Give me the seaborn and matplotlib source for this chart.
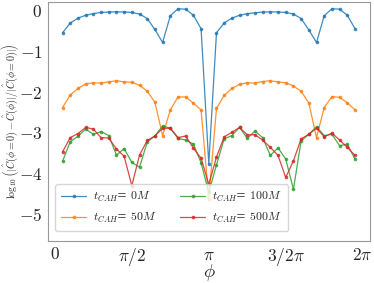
import numpy as np
import pandas as pd
import matplotlib
matplotlib.use('Agg')
import matplotlib.pyplot as plt
import seaborn as sns

# sampling steps: phi = step * pi / 20
steps = list(range(1, 40))

c_0M = [-0.54, -0.30, -0.18, -0.11, -0.07, -0.04, -0.03, -0.025, -0.03, -0.04,
        -0.08, -0.19, -0.46, -0.78, -0.12, 0.05, 0.04, -0.11, -0.44,
        -3.77,
        -0.54, -0.30, -0.18, -0.11, -0.07, -0.05, -0.03, -0.025, -0.03, -0.04,
        -0.08, -0.19, -0.47, -0.78, -0.12, 0.05, 0.04, -0.11, -0.44]

c_50M = [-2.38, -2.07, -1.91, -1.80, -1.77, -1.78, -1.75, -1.72, -1.75, -1.76,
         -1.83, -1.98, -2.25, -3.07, -2.44, -2.12, -2.12, -2.27, -2.44,
         -4.62,
         -2.40, -2.08, -1.91, -1.81, -1.77, -1.78, -1.74, -1.72, -1.75, -1.77,
         -1.85, -1.98, -2.27, -3.12, -2.38, -2.11, -2.13, -2.26, -2.44]

c_100M = [-3.70, -3.22, -3.09, -2.91, -3.04, -2.97, -3.07, -3.55, -3.39, -3.73,
          -3.85, -3.23, -3.08, -2.83, -2.89, -3.14, -3.18, -3.28, -3.74,
          -4.47,
          -3.79, -3.15, -3.07, -2.87, -3.14, -2.96, -3.12, -3.56, -3.37, -3.65,
          -4.39, -3.20, -3.04, -2.85, -3.07, -3.04, -3.32, -3.28, -3.65]

c_500M = [-3.47, -3.12, -3.02, -2.87, -2.91, -3.12, -3.13, -3.40, -3.58, -4.30,
          -3.55, -3.19, -3.08, -2.89, -2.89, -3.12, -3.08, -3.38, -3.63,
          -4.27,
          -3.60, -3.10, -2.99, -2.87, -3.05, -3.05, -3.18, -3.36, -3.56, -4.10,
          -3.69, -3.15, -3.04, -2.89, -3.10, -3.01, -3.18, -3.36, -3.56]

labels = [r'$t_{CAH}$= $0M$', r'$t_{CAH}$= $50M$',
          r'$t_{CAH}$= $100M$', r'$t_{CAH}$= $500M$']

xtick_vals = [0, np.pi / 2, np.pi, 1.5 * np.pi, 2 * np.pi]
xtick_labels = [r'$0$', r'$\pi/2$', r'$\pi$', r'$3/2\pi$', r'$2\pi$']
ytick_vals = [0, -1, -2, -3, -4, -5]

phi = np.array(steps) * np.pi / 20
frames = []
for lab, vals in zip(labels, [c_0M, c_50M, c_100M, c_500M]):
    frames.append(pd.DataFrame({'phi': phi, 'val': vals, 'run': lab}))
df = pd.concat(frames, ignore_index=True)

sns.set_style('white')
plt.rcParams['mathtext.fontset'] = 'cm'
plt.rcParams['font.family'] = ['DejaVu Serif']

fig = plt.figure(figsize=(3.74, 2.83), dpi=100)
ax = fig.add_axes([0.128, 0.149, 0.861, 0.843])

sns.lineplot(data=df, x='phi', y='val', hue='run', palette='tab10',
             marker='o', markersize=2.6, markeredgewidth=0, linewidth=0.9,
             alpha=0.85, ax=ax)

ax.set_xlim(-0.143, 6.43)
ax.set_ylim(-5.66, 0.21)
ax.set_xticks(xtick_vals)
ax.set_xticklabels(xtick_labels, fontsize=12.5)
ax.set_yticks(ytick_vals)
ax.set_yticklabels([r'$%d$' % v for v in ytick_vals], fontsize=12.5)
ax.tick_params(axis='both', length=2, width=0.6, color='#999999', pad=2)
for s in ax.spines.values():
    s.set_color('#999999')
    s.set_linewidth(0.8)

ax.set_xlabel(r'$\phi$', fontsize=13.5, labelpad=-4.5)
ax.set_ylabel(r'$\log_{10}\left(|\hat{C}(\phi=0)-\hat{C}(\phi)|/|\hat{C}(\phi=0)|\right)$',
              fontsize=7.2, labelpad=-1.5)

ax.legend(loc='lower left', ncol=2, fontsize=8.5, frameon=True,
          handlelength=2.1, handletextpad=0.6, columnspacing=2.0,
          borderpad=0.5, labelspacing=0.6, bbox_to_anchor=(0.005, 0.015))

fig.savefig('out.png', dpi=100)
